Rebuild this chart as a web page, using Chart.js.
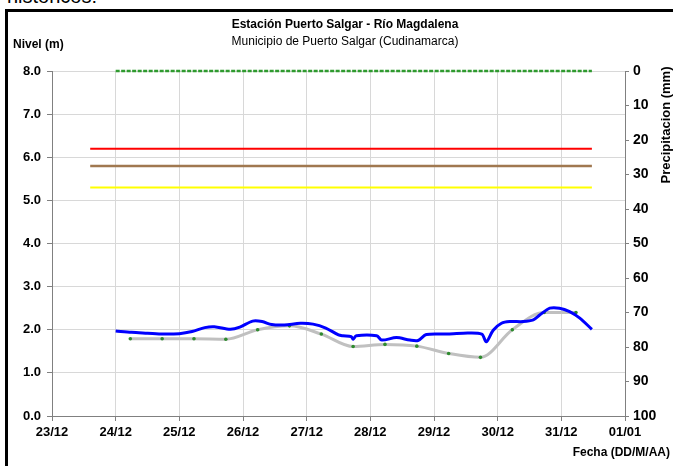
<!DOCTYPE html>
<html>
<head>
<meta charset="utf-8">
<script src="https://cdn.jsdelivr.net/npm/chart.js@4"></script>
<style>
  html, body { margin:0; padding:0; background:#fff; }
  body { width:673px; height:466px; position:relative; overflow:hidden; font-family:"Liberation Sans", Arial, sans-serif; }
  #wrap { position:absolute; left:0; top:0; width:673px; height:466px; }
  .t { position:absolute; white-space:nowrap; color:#000; }
  #frame { position:absolute; left:5px; top:9px; width:668px; height:460px; border-left:3px solid #000; border-top:3px solid #000; box-sizing:border-box; pointer-events:none; }
</style>
</head>
<body>
<div class="t" style="left:7px; top:-14px; font-size:20px; line-height:20px;">históricos:</div>
<div id="frame"></div>
<div id="wrap"><canvas id="c" width="673" height="466"></canvas></div>
<div class="t" style="left:0; width:690px; text-align:center; top:17px; font-size:12px; font-weight:bold; line-height:14px;">Estación Puerto Salgar - Río Magdalena</div>
<div class="t" style="left:0; width:690px; text-align:center; top:34px; font-size:12px; line-height:14px;">Municipio de Puerto Salgar (Cudinamarca)</div>
<div class="t" style="left:13px; top:37px; font-size:12px; font-weight:bold; line-height:14px;">Nivel (m)</div>
<div class="t" style="left:603px; top:118px; width:126px; text-align:center; font-size:13px; font-weight:bold; line-height:14px; transform:rotate(-90deg); transform-origin:50% 50%;">Precipitacion (mm)</div>
<div class="t" style="right:3px; top:445px; font-size:12px; font-weight:bold; line-height:14px;">Fecha (DD/M/AA)</div>
<script>
// Date tick labels (x = days since 23/12 00:00)
const dateLabels = ['23/12','24/12','25/12','26/12','27/12','28/12','29/12','30/12','31/12','01/01'];
const levelTicks = [0,1,2,3,4,5,6,7,8];
const precipTicks = [0,10,20,30,40,50,60,70,80,90,100];

// Observed level (blue), time in days
const blueTimes  = [1.00,1.25,1.50,1.75,2.00,2.20,2.40,2.55,2.80,2.95,3.15,3.30,3.45,3.65,3.90,4.10,4.30,4.50,4.57,4.70,4.73,4.78,5.10,5.18,5.41,5.62,5.75,5.88,6.20,6.46,6.75,6.82,6.93,7.06,7.19,7.40,7.56,7.66,7.82,7.97,8.13,8.29,8.48];
const blueLevels = [1.97,1.94,1.92,1.90,1.91,1.96,2.05,2.07,2.01,2.06,2.20,2.19,2.12,2.11,2.15,2.13,2.04,1.88,1.86,1.84,1.78,1.86,1.86,1.76,1.82,1.76,1.75,1.89,1.90,1.92,1.90,1.72,1.99,2.15,2.19,2.19,2.23,2.34,2.50,2.50,2.42,2.27,2.01];

// Forecast/reference level (gray with green points)
const grayTimes  = [1.23,1.73,2.23,2.73,3.23,3.73,4.23,4.73,5.23,5.73,6.23,6.73,7.23,7.73,8.23];
const grayLevels = [1.79,1.79,1.79,1.78,2.00,2.09,1.90,1.61,1.66,1.62,1.45,1.36,2.00,2.40,2.40];

// Precipitation (mm)
const precipTimes  = [1.00,2.00,3.00,4.00,5.00,6.00,7.00,8.00,8.48];
const precipValues = [0,0,0,0,0,0,0,0,0];

// Alert thresholds (m)
const thresholdStartEnd = [0.60, 8.48];
const redLevel = 6.2, brownLevel = 5.8, yellowLevel = 5.3;

const zip = (xs, ys) => xs.map((x, i) => ({x, y: ys[i]}));
const flat = (v) => thresholdStartEnd.map(x => ({x, y: v}));

const tickFont = {family:'"Liberation Sans", Arial, sans-serif', size:13, weight:'bold'};

new Chart(document.getElementById('c'), {
  type: 'line',
  data: {
    datasets: [
      {data: zip(precipTimes, precipValues), borderColor:'#2f9a2f', borderWidth:2.5, borderDash:[4,1.5], pointRadius:0, yAxisID:'y2', clip:false},
      {data: zip(blueTimes, blueLevels), borderColor:'#0000ff', borderWidth:3, pointRadius:0, tension:0.3, yAxisID:'y'},
      {data: zip(grayTimes, grayLevels), borderColor:'#c0c0c0', borderWidth:3, pointRadius:1.8, pointBackgroundColor:'#2e8b2e', pointBorderWidth:0, tension:0.4, cubicInterpolationMode:'monotone', yAxisID:'y'},
      {data: flat(redLevel), borderColor:'#ff0000', borderWidth:2, pointRadius:0, yAxisID:'y'},
      {data: flat(brownLevel), borderColor:'#a07850', borderWidth:2.5, pointRadius:0, yAxisID:'y'},
      {data: flat(yellowLevel), borderColor:'#ffff00', borderWidth:2, pointRadius:0, yAxisID:'y'}
    ]
  },
  options: {
    responsive:false, animation:false, devicePixelRatio:1,
    layout:{padding:{top:71, left:0, right:0, bottom:0}},
    plugins:{legend:{display:false}, tooltip:{enabled:false}, title:{display:false}},
    scales:{
      x:{type:'linear', min:0, max:9,
        afterFit:(s)=>{s.height=50;},
        afterBuildTicks:(s)=>{s.ticks = dateLabels.map((_,i)=>({value:i}));},
        ticks:{stepSize:1, callback:(v)=>dateLabels[v], color:'#000', font:tickFont, padding:4, maxRotation:0, autoSkip:false},
        grid:{color:'#d8d8d8', lineWidth:1, tickLength:5, tickColor:'#808080'},
        border:{color:'#808080', width:1}
      },
      y:{type:'linear', position:'left', min:0, max:8,
        afterFit:(s)=>{s.width=52;},
        afterBuildTicks:(s)=>{s.ticks = levelTicks.map(v=>({value:v}));},
        ticks:{callback:(v)=>v.toFixed(1), color:'#000', font:tickFont, padding:6},
        grid:{color:'#d8d8d8', lineWidth:1, tickLength:5, tickColor:'#808080'},
        border:{color:'#808080', width:1}
      },
      y2:{type:'linear', position:'right', min:0, max:100, reverse:true,
        afterFit:(s)=>{s.width=48;},
        afterBuildTicks:(s)=>{s.ticks = precipTicks.map(v=>({value:v}));},
        ticks:{color:'#000', font:{family:'"Liberation Sans", Arial, sans-serif', size:14, weight:'bold'}, padding:4},
        grid:{drawOnChartArea:false, tickLength:4, tickColor:'#808080'},
        border:{color:'#808080', width:1}
      }
    }
  }
});
</script>
</body>
</html>
